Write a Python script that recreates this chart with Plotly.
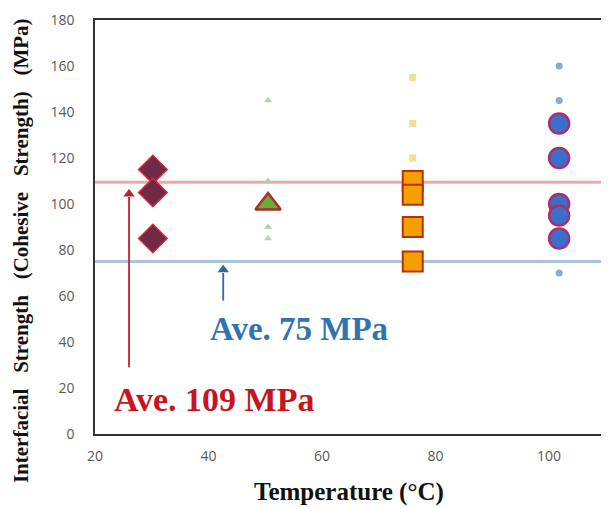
import plotly.graph_objects as go

# Data
x_30 = [30.2, 30.2, 30.2]
y_30 = [115, 105, 85]

x_50_big = [50.5]
y_50_big = [100]
x_50_small = [50.5, 50.5, 50.5, 50.5]
y_50_small = [145, 110, 90, 85]

x_75_big = [76, 76, 76, 76]
y_75_big = [110, 104, 90, 75]
x_75_small = [76, 76, 76]
y_75_small = [155, 135, 120]

x_100_big = [101.8, 101.8, 101.8, 101.8, 101.8]
y_100_big = [135, 120, 100, 95, 85]
x_100_small = [101.8, 101.8, 101.8]
y_100_small = [160, 145, 70]

avg_high = 109.5
avg_low = 75
x_ticks = [20, 40, 60, 80, 100]
y_ticks = [0, 20, 40, 60, 80, 100, 120, 140, 160, 180]
x_range = [20, 112.0]
y_range = [0, 180]

# arrow ends (data units)
red_arrow_x, red_arrow_tail, red_arrow_tip = 26, 29, 107
blue_arrow_x, blue_arrow_tail, blue_arrow_tip = 42.6, 58, 74

fig = go.Figure()

# average lines
fig.add_trace(go.Scatter(x=x_range, y=[avg_high, avg_high], mode="lines",
                         line=dict(color="#f4a6ac", width=3), hoverinfo="skip"))
fig.add_trace(go.Scatter(x=x_range, y=[avg_low, avg_low], mode="lines",
                         line=dict(color="#a9c4dc", width=3), hoverinfo="skip"))

# small faded markers
fig.add_trace(go.Scatter(x=x_50_small, y=y_50_small, mode="markers",
                         marker=dict(symbol="triangle-up", size=7, color="#a9d3b5")))
fig.add_trace(go.Scatter(x=x_75_small, y=y_75_small, mode="markers",
                         marker=dict(symbol="square", size=7, color="#f6dc95")))
fig.add_trace(go.Scatter(x=x_100_small, y=y_100_small, mode="markers",
                         marker=dict(symbol="circle", size=7, color="#86acd0")))

# big markers
fig.add_trace(go.Scatter(x=x_30, y=y_30, mode="markers",
                         marker=dict(symbol="diamond", size=22, color="#6e2a46",
                                     line=dict(color="#d8283c", width=1.5))))
fig.add_trace(go.Scatter(x=x_50_big, y=y_50_big, mode="markers",
                         marker=dict(symbol="triangle-up", size=22, color="#6aab3a",
                                     line=dict(color="#a8302a", width=2.5))))
fig.add_trace(go.Scatter(x=x_75_big, y=y_75_big, mode="markers",
                         marker=dict(symbol="square", size=20, color="#f6a000",
                                     line=dict(color="#b4320e", width=2))))
fig.add_trace(go.Scatter(x=x_100_big, y=y_100_big, mode="markers",
                         marker=dict(symbol="circle", size=20, color="#3b6fcb",
                                     line=dict(color="#a8306c", width=2.5))))

# arrows: shaft as line trace, head as triangle marker
fig.add_trace(go.Scatter(x=[red_arrow_x, red_arrow_x], y=[red_arrow_tail, red_arrow_tip - 4],
                         mode="lines", line=dict(color="#c0202c", width=1.8), hoverinfo="skip"))
fig.add_trace(go.Scatter(x=[blue_arrow_x, blue_arrow_x], y=[blue_arrow_tail, blue_arrow_tip - 4],
                         mode="lines", line=dict(color="#2e6a9e", width=1.8), hoverinfo="skip"))
fig.add_trace(go.Scatter(x=[red_arrow_x], y=[red_arrow_tip - 2.6], mode="markers",
                         marker=dict(symbol="triangle-up", size=10, color="#c0202c"),
                         hoverinfo="skip"))
fig.add_trace(go.Scatter(x=[blue_arrow_x], y=[blue_arrow_tip - 2.6], mode="markers",
                         marker=dict(symbol="triangle-up", size=10, color="#2e6a9e"),
                         hoverinfo="skip"))

serif = "Liberation Serif, Times New Roman, serif"

fig.add_annotation(x=39.9, y=45.5, xref="x", yref="y", text="<b>Ave. 75 MPa</b>",
                   showarrow=False, xanchor="left", yanchor="middle",
                   font=dict(family=serif, size=33, color="#2f74b0"))
fig.add_annotation(x=23, y=15, xref="x", yref="y", text="<b>Ave. 109 MPa</b>",
                   showarrow=False, xanchor="left", yanchor="middle",
                   font=dict(family=serif, size=34, color="#c8141e"))

# axis titles
gap = "\u00a0\u00a0 "
ytitle = (f"<b>Interfacial{gap}Strength{gap}(Cohesive{gap}Strength){gap}(MPa)</b>")
fig.add_annotation(xref="paper", yref="paper", x=-0.142, y=0.444,
                   text=ytitle, textangle=-90, showarrow=False,
                   xanchor="center", yanchor="middle",
                   font=dict(family=serif, size=21, color="#111111"))
fig.add_annotation(xref="paper", yref="paper", x=0.487, y=-0.14,
                   text="<b>Temperature (°C)</b>", showarrow=False,
                   xanchor="center", yanchor="middle",
                   font=dict(family=serif, size=25, color="#111111"))

# the page places the figure 8 px from its top-left corner; margins compensate
fig.update_layout(
    width=609, height=507,
    margin=dict(l=87, r=0, t=12, b=81),
    paper_bgcolor="white", plot_bgcolor="white",
    showlegend=False,
    xaxis=dict(range=x_range, tickvals=x_ticks, showgrid=False, zeroline=False,
               showline=True, linecolor="#333333", linewidth=1.5, mirror=True,
               ticks="", ticklabelstandoff=8, automargin=False,
               tickfont=dict(family="Open Sans, sans-serif", size=14, color="#595959")),
    yaxis=dict(range=y_range, tickvals=y_ticks, showgrid=False, zeroline=False,
               showline=True, linecolor="#333333", linewidth=1.5,
               ticks="", ticklabelstandoff=16, automargin=False,
               tickfont=dict(family="Open Sans, sans-serif", size=14, color="#595959")),
)

fig.write_html("out.html")
